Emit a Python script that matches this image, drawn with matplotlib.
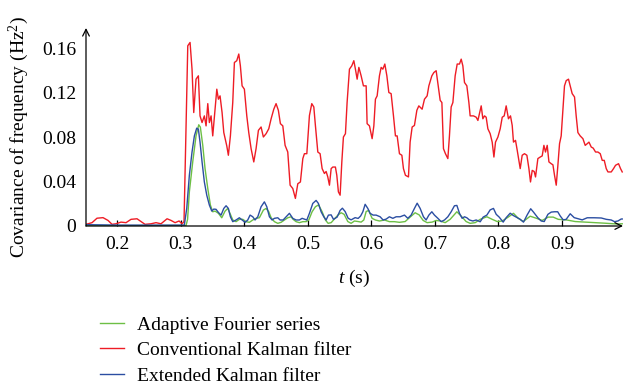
import matplotlib
matplotlib.use("Agg")
import matplotlib.pyplot as plt
from matplotlib.lines import Line2D
from matplotlib.ticker import FixedLocator, FixedFormatter

plt.rcParams['font.family'] = ['Liberation Serif', 'DejaVu Serif']
plt.rcParams['mathtext.fontset'] = 'custom'
plt.rcParams['mathtext.rm'] = 'Liberation Serif'
plt.rcParams['mathtext.it'] = 'Liberation Serif:italic'

# ---------------- data ----------------
red_t = [0.1507, 0.1602, 0.1680, 0.1775, 0.1854, 0.1917, 0.1980, 0.2058, 0.2137, 0.2216,
         0.2310, 0.2373, 0.2436, 0.2531, 0.2609, 0.2688, 0.2783, 0.2846, 0.2909, 0.2972,
         0.3019, 0.3050,
         0.3109, 0.3145, 0.3176, 0.3203, 0.3239, 0.3276, 0.3302, 0.3334, 0.3370, 0.3397,
         0.3424, 0.3449, 0.3476, 0.3502, 0.3566, 0.3591, 0.3617, 0.3649, 0.3676, 0.3723,
         0.3748, 0.3780, 0.3817, 0.3843, 0.3880, 0.3912, 0.3937, 0.3964, 0.4000, 0.4038,
         0.4069, 0.4106, 0.4148, 0.4184, 0.4221, 0.4263, 0.4299, 0.4342, 0.4384, 0.4421,
         0.4463, 0.4499, 0.4535, 0.4567, 0.4605, 0.4641, 0.4683, 0.4720, 0.4762, 0.4803,
         0.4841, 0.4882, 0.4920, 0.4945, 0.4983, 0.5024, 0.5061, 0.5093, 0.5118, 0.5156,
         0.5192, 0.5224, 0.5260, 0.5287, 0.5313, 0.5339, 0.5366, 0.5392, 0.5433, 0.5455,
         0.5480, 0.5507, 0.5534, 0.5559, 0.5591, 0.5617, 0.5654, 0.5691, 0.5723, 0.5748,
         0.5775, 0.5802, 0.5838, 0.5874, 0.5917, 0.5932, 0.5969, 0.6011, 0.6038, 0.6063,
         0.6090, 0.6126, 0.6153, 0.6180, 0.6211, 0.6243, 0.6274, 0.6310, 0.6347, 0.6378,
         0.6405, 0.6441, 0.6479, 0.6504, 0.6535, 0.6583, 0.6609, 0.6641, 0.6677, 0.6715,
         0.6746, 0.6798, 0.6835, 0.6877, 0.6904, 0.6951, 0.6983, 0.7019, 0.7046, 0.7082,
         0.7109, 0.7134, 0.7165, 0.7203, 0.7228, 0.7255, 0.7282, 0.7318, 0.7350, 0.7386,
         0.7413, 0.7439, 0.7465, 0.7502, 0.7534, 0.7554, 0.7606, 0.7649, 0.7676, 0.7701,
         0.7728, 0.7754, 0.7780, 0.7806, 0.7833, 0.7869, 0.7901, 0.7928, 0.7953, 0.7991,
         0.8027, 0.8059, 0.8090, 0.8121, 0.8157, 0.8189, 0.8216, 0.8236, 0.8268, 0.8295,
         0.8342, 0.8373, 0.8409, 0.8447, 0.8479, 0.8504, 0.8531, 0.8562, 0.8583, 0.8620,
         0.8657, 0.8688, 0.8715, 0.8740, 0.8767, 0.8794, 0.8830, 0.8857, 0.8882, 0.8909,
         0.8935, 0.8961, 0.8987, 0.9014, 0.9039, 0.9066, 0.9102, 0.9129, 0.9160, 0.9197,
         0.9223, 0.9250, 0.9286, 0.9329, 0.9365, 0.9397, 0.9424, 0.9460, 0.9491, 0.9528,
         0.9565, 0.9602, 0.9633, 0.9665, 0.9696, 0.9723, 0.9775, 0.9811, 0.9843, 0.9890,
         0.9921, 0.9948]
red_v = [0.0015, 0.0030, 0.0070, 0.0075, 0.0050, 0.0015, 0.0020, 0.0035, 0.0030, 0.0060,
         0.0065, 0.0040, 0.0015, 0.0020, 0.0030, 0.0020, 0.0065, 0.0050, 0.0030, 0.0045,
         0.0020, 0.0040,
         0.162, 0.165, 0.141, 0.102, 0.132, 0.135, 0.099, 0.093, 0.099, 0.090,
         0.110, 0.093, 0.099, 0.081, 0.123, 0.114, 0.117, 0.102, 0.084, 0.072,
         0.0636, 0.081, 0.111, 0.147, 0.1486, 0.1546, 0.144, 0.126, 0.123, 0.099,
         0.084, 0.0695, 0.0576, 0.0695, 0.086, 0.089, 0.080, 0.083, 0.0874, 0.0964,
         0.105, 0.110, 0.104, 0.092, 0.090, 0.0725, 0.0665, 0.0367, 0.0337, 0.0248,
         0.038, 0.0396, 0.0606, 0.065, 0.065, 0.0993, 0.110, 0.107, 0.0904, 0.0665,
         0.065, 0.0516, 0.0472, 0.049, 0.0441, 0.0367, 0.0516, 0.053, 0.053, 0.0456,
         0.0307, 0.0277, 0.0576, 0.080, 0.083, 0.111, 0.141, 0.144, 0.1486, 0.141,
         0.132, 0.1426, 0.135, 0.126, 0.126, 0.092, 0.090, 0.0785, 0.090, 0.114,
         0.117, 0.135, 0.1426, 0.141, 0.1456, 0.135, 0.120, 0.119, 0.099, 0.081,
         0.081, 0.065, 0.0636, 0.0516, 0.0456, 0.0441, 0.0754, 0.089, 0.0904, 0.104,
         0.108, 0.105, 0.114, 0.117, 0.126, 0.135, 0.138, 0.1396, 0.128, 0.113,
         0.111, 0.0695, 0.065, 0.0606, 0.081, 0.107, 0.111, 0.135, 0.1456, 0.1456,
         0.150, 0.144, 0.129, 0.126, 0.111, 0.099, 0.099, 0.0978, 0.0949, 0.101,
         0.108, 0.0964, 0.099, 0.0978, 0.0874, 0.083, 0.0754, 0.062, 0.0754, 0.080,
         0.0874, 0.0978, 0.099, 0.108, 0.0964, 0.099, 0.0904, 0.0754, 0.077, 0.068,
         0.0516, 0.0636, 0.065, 0.0636, 0.0516, 0.0396, 0.050, 0.049, 0.0441, 0.0606,
         0.062, 0.063, 0.0725, 0.0665, 0.0725, 0.0576, 0.056, 0.055, 0.0456, 0.0367,
         0.0546, 0.074, 0.081, 0.104, 0.126, 0.1307, 0.132, 0.126, 0.119, 0.116,
         0.099, 0.084, 0.081, 0.0785, 0.0725, 0.074, 0.0754, 0.071, 0.070, 0.0665,
         0.0665, 0.065, 0.059, 0.059, 0.0516, 0.0486, 0.0486, 0.0516, 0.0546, 0.056,
         0.0516, 0.0486]

blue_t = [0.1507, 0.2043, 0.2515, 0.3055, 0.3093, 0.3134, 0.3176, 0.3213, 0.3250, 0.3276,
          0.3302, 0.3334, 0.3370, 0.3408, 0.3449, 0.3487, 0.3518, 0.3554, 0.3591, 0.3633,
          0.3676, 0.3712, 0.3748, 0.3780, 0.3817, 0.3869, 0.3921, 0.3964, 0.4011, 0.4053,
          0.4090, 0.4132, 0.4168, 0.4211, 0.4263, 0.4315, 0.4353, 0.4394, 0.4436, 0.4473,
          0.4526, 0.4562, 0.4610, 0.4657, 0.4709, 0.4762, 0.4814, 0.4866, 0.4909, 0.4983,
          0.5024, 0.5077, 0.5129, 0.5165, 0.5208, 0.5250, 0.5287, 0.5323, 0.5366, 0.5402,
          0.5460, 0.5507, 0.5543, 0.5586, 0.5633, 0.5680, 0.5743, 0.5791, 0.5830, 0.5865,
          0.5901, 0.5943, 0.5979, 0.6027, 0.6074, 0.6137, 0.6184, 0.6232, 0.6283, 0.6337,
          0.6389, 0.6452, 0.6520, 0.6573, 0.6625, 0.6677, 0.6720, 0.6767, 0.6819, 0.6861,
          0.6904, 0.6951, 0.6992, 0.7046, 0.7098, 0.7150, 0.7203, 0.7255, 0.7307, 0.7345,
          0.7386, 0.7428, 0.7465, 0.7502, 0.7543, 0.7597, 0.7649, 0.7712, 0.7759, 0.7817,
          0.7869, 0.7921, 0.7964, 0.8011, 0.8074, 0.8121, 0.8184, 0.8231, 0.8295, 0.8342,
          0.8394, 0.8452, 0.8507, 0.8551, 0.8620, 0.8673, 0.8720, 0.8778, 0.8830, 0.8882,
          0.8932, 0.8972, 0.9019, 0.9066, 0.9129, 0.9192, 0.9255, 0.9318, 0.9397, 0.9507,
          0.9618, 0.9696, 0.9775, 0.9827, 0.9880, 0.9932, 0.9948]
blue_v = [0.0012, 0.0008, 0.0008, 0.0008, 0.016, 0.0456, 0.0665, 0.081, 0.088, 0.087,
          0.0754, 0.0576, 0.0396, 0.0277, 0.0188, 0.0134, 0.0152, 0.015, 0.0122, 0.0098,
          0.0158, 0.0182, 0.0158, 0.0083, 0.0039, 0.0054, 0.0074, 0.0054, 0.0033, 0.0054,
          0.0098, 0.0083, 0.0054, 0.0083, 0.0173, 0.0217, 0.0173, 0.0083, 0.0054, 0.0069,
          0.0074, 0.0054, 0.0054, 0.0083, 0.0114, 0.0069, 0.0054, 0.0054, 0.0069, 0.0054,
          0.0114, 0.0203, 0.023, 0.0203, 0.0128, 0.0083, 0.0054, 0.0098, 0.010, 0.006,
          0.008, 0.014, 0.016, 0.013, 0.007, 0.0055, 0.0075, 0.0068, 0.009, 0.0128,
          0.0195, 0.0158, 0.0114, 0.0098, 0.0098, 0.0083, 0.0054, 0.0062, 0.0083, 0.0069,
          0.0083, 0.0083, 0.0098, 0.0069, 0.0098, 0.0158, 0.0205, 0.0158, 0.0083, 0.0054,
          0.0098, 0.0128, 0.0098, 0.0069, 0.0039, 0.0054, 0.0083, 0.0128, 0.0182, 0.0185,
          0.0114, 0.0069, 0.0083, 0.0074, 0.0054, 0.0045, 0.0054, 0.0038, 0.008, 0.0098,
          0.0145, 0.0158, 0.0105, 0.008, 0.0035, 0.0075, 0.0115, 0.0095, 0.0075, 0.006,
          0.0035, 0.010, 0.0155, 0.0125, 0.0074, 0.0045, 0.004, 0.0105, 0.0125, 0.0128,
          0.0128, 0.009, 0.0055, 0.006, 0.011, 0.0075, 0.0065, 0.0055, 0.0074, 0.0074,
          0.0072, 0.006, 0.0054, 0.0039, 0.0045, 0.0063, 0.0063]

green_t = [0.1507, 0.3082, 0.3106, 0.3134, 0.3187, 0.3239, 0.3282, 0.3307, 0.3345, 0.3381,
           0.3424, 0.3465, 0.3502, 0.3539, 0.3591, 0.3644, 0.3696, 0.3739, 0.3780, 0.3817,
           0.3869, 0.3921, 0.3975, 0.4027, 0.4079, 0.4132, 0.4184, 0.4236, 0.4299, 0.4342,
           0.4384, 0.4421, 0.4473, 0.4526, 0.4578, 0.4630, 0.4683, 0.4736, 0.4767, 0.4814,
           0.4866, 0.4920, 0.4972, 0.5014, 0.5066, 0.5118, 0.5168, 0.5224, 0.5276, 0.5318,
           0.5366, 0.5413, 0.5476, 0.5523, 0.5570, 0.5628, 0.5680, 0.5732, 0.5791, 0.5838,
           0.5880, 0.5917, 0.5956, 0.6011, 0.6063, 0.6126, 0.6205, 0.6283, 0.6362, 0.6441,
           0.6531, 0.6609, 0.6688, 0.6751, 0.6814, 0.6877, 0.6956, 0.7019, 0.7082, 0.7161,
           0.7239, 0.7345, 0.7428, 0.7491, 0.7554, 0.7633, 0.7712, 0.7817, 0.7901, 0.7980,
           0.8058, 0.8153, 0.8236, 0.8310, 0.8389, 0.8499, 0.8594, 0.8688, 0.8783, 0.8861,
           0.8940, 0.9077, 0.9208, 0.9365, 0.9523, 0.9680, 0.9864, 0.9948]
green_v = [0.0003, 0.0004, 0.006, 0.0307, 0.0576, 0.081, 0.091, 0.0889, 0.0725, 0.0516,
           0.0337, 0.0188, 0.0128, 0.0134, 0.0114, 0.0074, 0.0134, 0.0158, 0.0105, 0.0054,
           0.0039, 0.006, 0.006, 0.0039, 0.0033, 0.0054, 0.0069, 0.0074, 0.0143, 0.0158,
           0.0128, 0.0074, 0.0039, 0.0024, 0.0033, 0.0054, 0.0074, 0.0083, 0.006, 0.0039,
           0.003, 0.0039, 0.0039, 0.0054, 0.0128, 0.0173, 0.019, 0.0128, 0.0054, 0.0024,
           0.003, 0.006, 0.010, 0.0119, 0.0105, 0.004, 0.0024, 0.0045, 0.004, 0.0035,
           0.0054, 0.013, 0.014, 0.0069, 0.0054, 0.0045, 0.0054, 0.0039, 0.0039, 0.0033,
           0.004, 0.008, 0.0119, 0.010, 0.005, 0.003, 0.0035, 0.005, 0.0045, 0.003,
           0.006, 0.0128, 0.008, 0.004, 0.0024, 0.003, 0.006, 0.0083, 0.006, 0.004,
           0.0045, 0.008, 0.0114, 0.007, 0.004, 0.0088, 0.007, 0.005, 0.008, 0.008,
           0.006, 0.0054, 0.004, 0.0035, 0.003, 0.0025, 0.0018, 0.002]

x_ticks = [0.2, 0.3, 0.4, 0.5, 0.6, 0.7, 0.8, 0.9]
x_ticklabels = ['0.2', '0.3', '0.4', '0.5', '0.6', '0.7', '0.8', '0.9']
y_ticks = [0, 0.04, 0.08, 0.12, 0.16]
y_ticklabels = ['0', '0.04', '0.08', '0.12', '0.16']
labels = ['Adaptive Fourier series', 'Conventional Kalman filter', 'Extended Kalman filter']

# ---------------- figure ----------------
C_GREEN = '#6dbf45'
C_RED = '#ee1c25'
C_BLUE = '#2b4ea2'
FS = 14

fig = plt.figure(figsize=(6.24, 3.89), dpi=100)
ax = fig.add_axes([86/624, (389-226)/389, (623-86)/624, (226-28)/389])

ax.plot(red_t, red_v, color=C_RED, lw=1.0, zorder=2)
ax.plot(green_t, green_v, color=C_GREEN, lw=1.0, zorder=3)
ax.plot(blue_t, blue_v, color=C_BLUE, lw=1.0, zorder=4)

ax.set_xlim(0.1507, 0.996)
ax.set_ylim(0, 0.178)

for s in ax.spines.values():
    s.set_visible(False)

ax.annotate('', xy=(1, 0), xytext=(0, 0), xycoords='axes fraction',
            arrowprops=dict(arrowstyle='->', lw=0.9, color='black',
                            shrinkA=0, shrinkB=0, mutation_scale=12), zorder=5)
ax.annotate('', xy=(0, 1), xytext=(0, 0), xycoords='axes fraction',
            arrowprops=dict(arrowstyle='->', lw=0.9, color='black',
                            shrinkA=0, shrinkB=0, mutation_scale=12), zorder=5)

ax.xaxis.set_major_locator(FixedLocator(x_ticks))
ax.xaxis.set_major_formatter(FixedFormatter(x_ticklabels))
ax.yaxis.set_major_locator(FixedLocator(y_ticks))
ax.yaxis.set_major_formatter(FixedFormatter(y_ticklabels))
ax.tick_params(axis='x', direction='in', length=4, width=0.9, pad=7, labelsize=FS)
ax.tick_params(axis='y', length=0, pad=7, labelsize=FS)

ax.set_xlabel('$t$ (s)', fontsize=FS, labelpad=11)
ax.set_ylabel('Covariance of frequency (Hz$^2$)', fontsize=FS)
ax.yaxis.set_label_coords(-0.102, 0.45)

handles = [Line2D([], [], color=C_GREEN, lw=1.0),
           Line2D([], [], color=C_RED, lw=1.0),
           Line2D([], [], color=C_BLUE, lw=1.0)]
fig.legend(handles, labels, loc='upper left', bbox_to_anchor=(100/624, 0.187),
           frameon=False, fontsize=FS, handlelength=1.25, handletextpad=0.65,
           labelspacing=0.4, borderpad=0, borderaxespad=0)

fig.savefig('out.png', dpi=100)
